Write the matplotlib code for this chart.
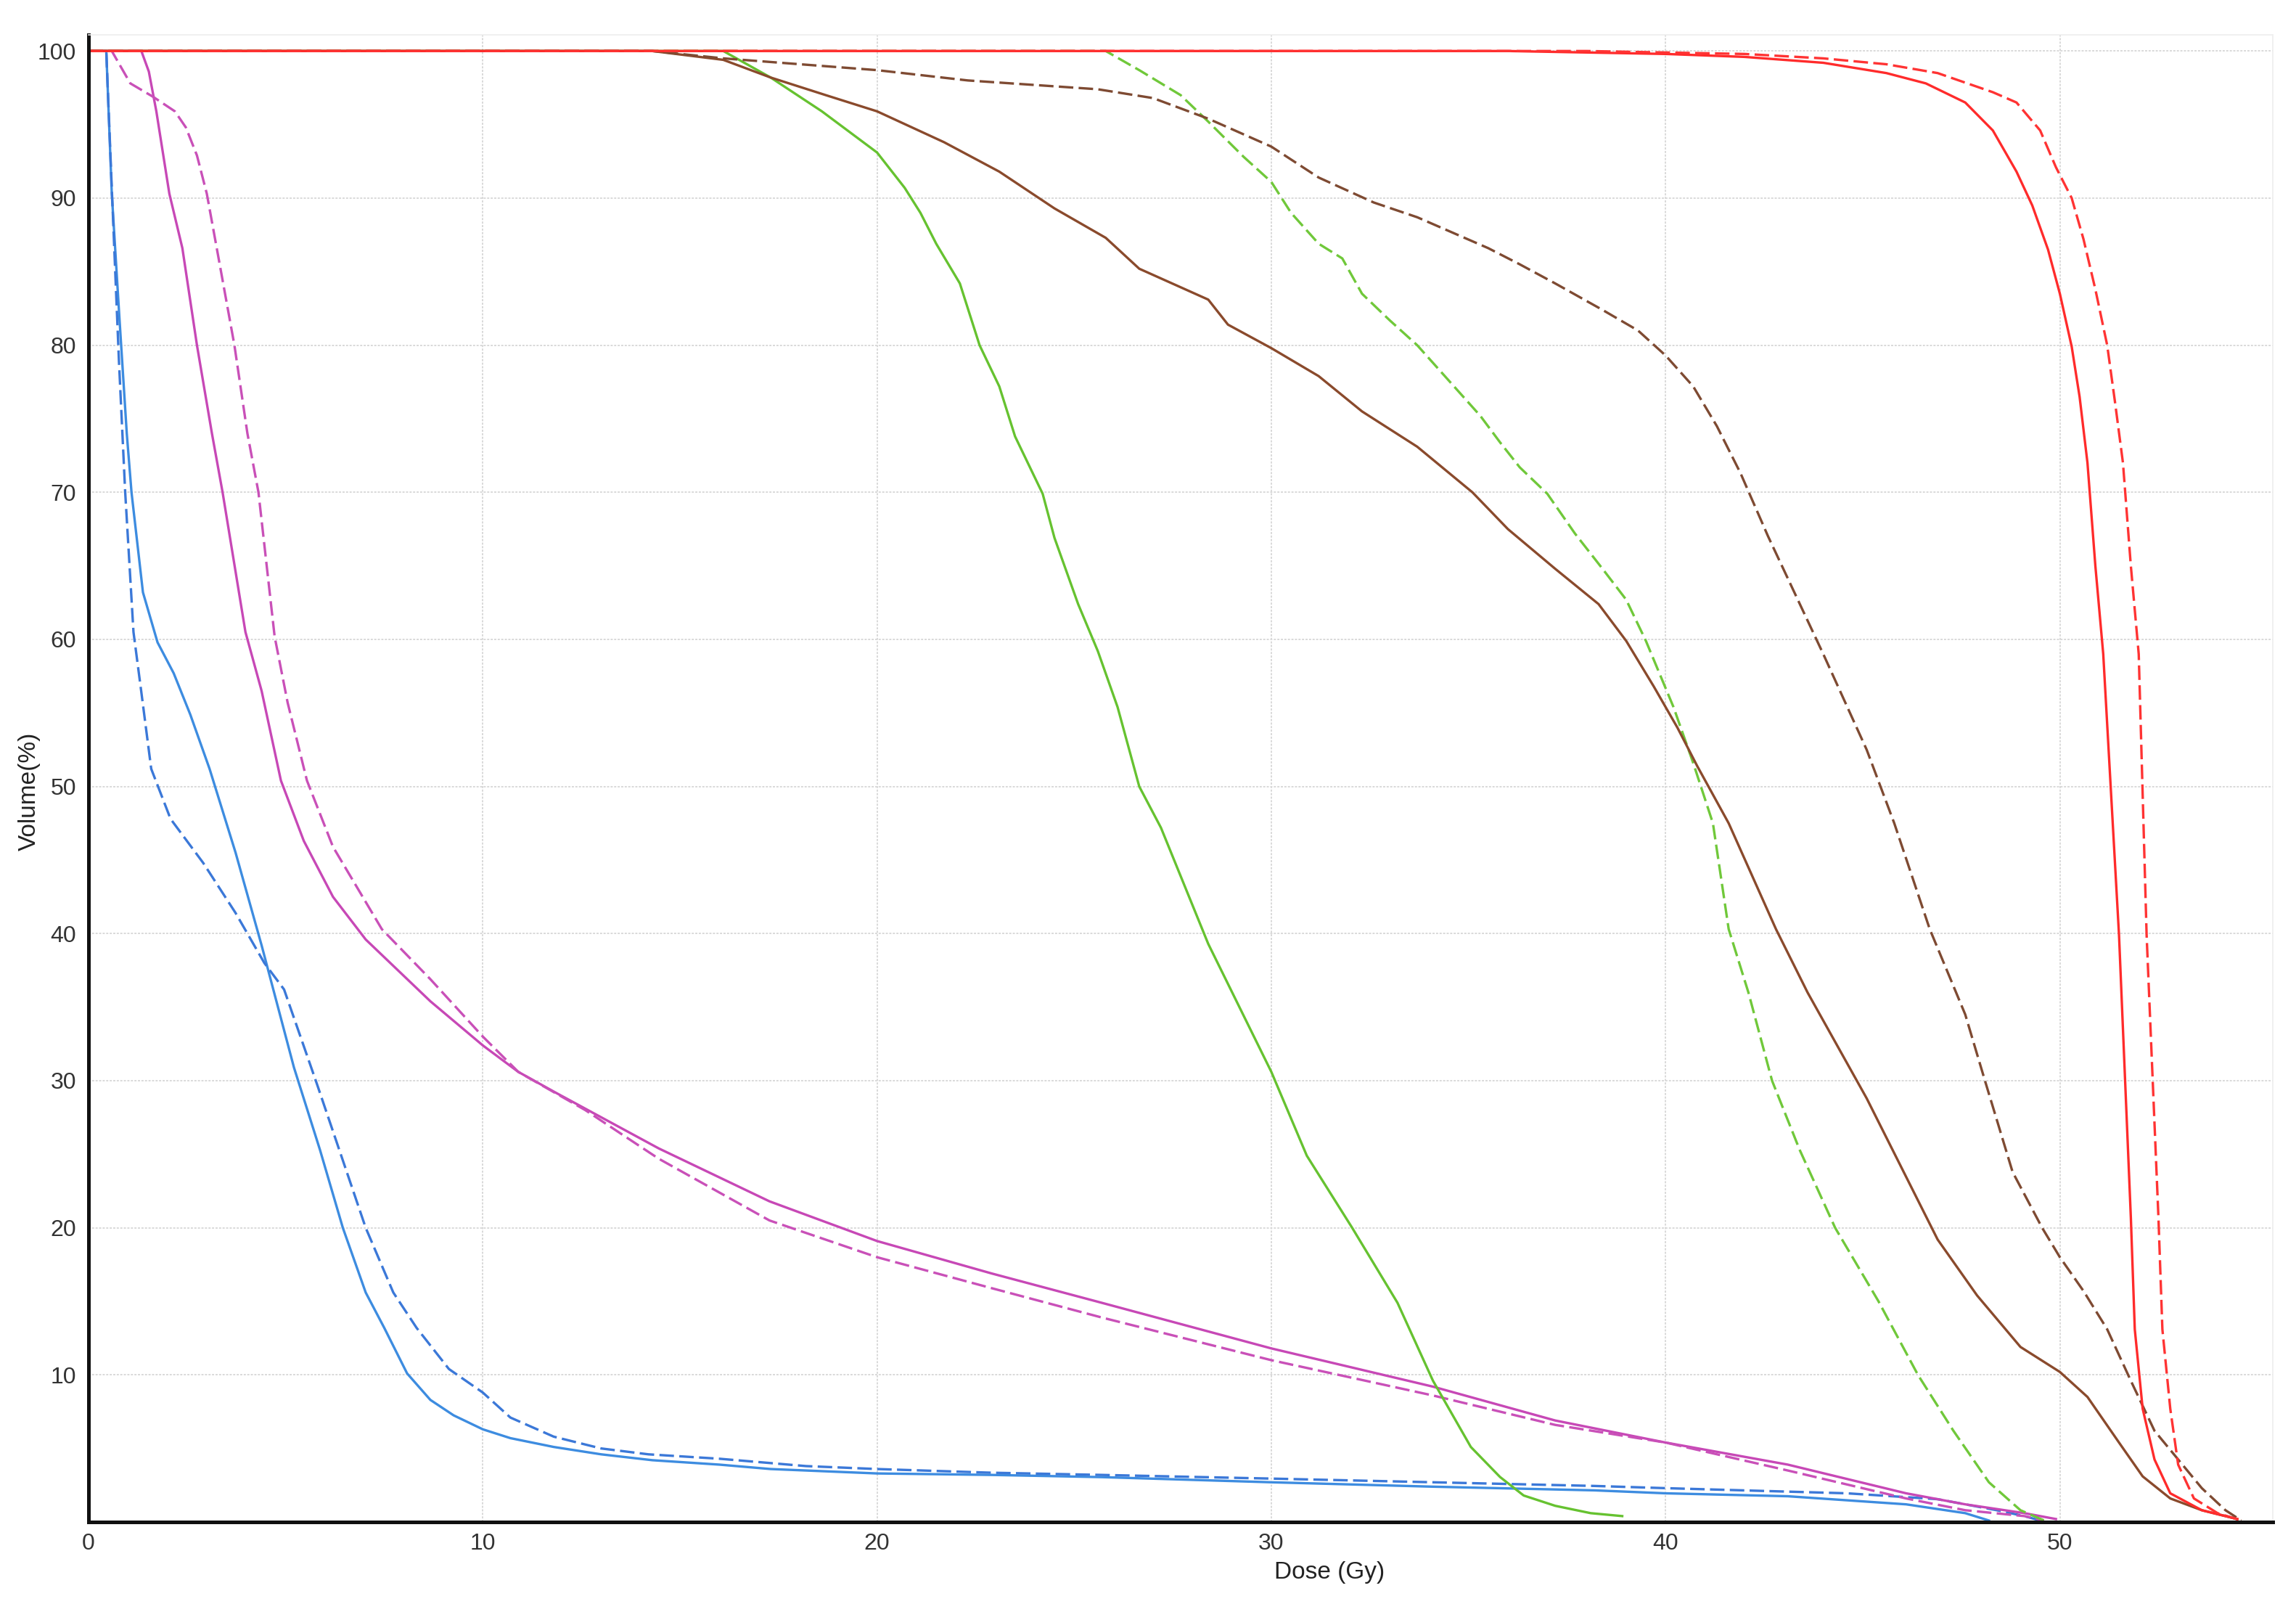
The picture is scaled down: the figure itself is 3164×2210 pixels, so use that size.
'''
    Dose-volume histogram, solid vs dashed plans
'''

from matplotlib import pyplot as plt
import numpy as np

# dose (Gy) / volume (%) pairs
blue_dose = [0, 0.45, 0.59, 0.78, 0.97, 1.09, 1.38, 1.75, 2.16, 2.58, 3.07, 3.73, 4.39, 5.21,
             5.87, 6.45, 7.03, 7.5, 8.08, 8.67, 9.26, 10, 10.7, 11.8, 13, 14.3, 16, 17.3, 20,
             22.9, 25.7, 30, 34.1, 38.2, 40, 43.1, 46.1, 47.6, 48.2]
blue_vol = [100, 100, 90.3, 82, 74, 70, 63.2, 59.8, 57.7, 54.9, 51.2, 45.5, 39.2, 30.9,
            25.3, 20, 15.6, 13.2, 10.1, 8.3, 7.25, 6.3, 5.7, 5.1, 4.6, 4.2, 3.9, 3.6, 3.3,
            3.2, 3.05, 2.7, 2.4, 2.15, 1.95, 1.75, 1.2, 0.6, 0.1]

blue_d_dose = [0, 0.45, 0.6, 0.77, 0.93, 1.14, 1.34, 1.59, 2.08, 2.91, 3.73, 4.46, 4.96, 5.79,
               7.03, 7.73, 8.32, 9.14, 10, 10.7, 11.8, 13, 14.2, 16, 18.2, 20, 22.9, 25.7, 30,
               34.1, 38.2, 40, 44.6, 46.9, 48.4, 49.1, 49.5]
blue_d_vol = [100, 100, 90, 79, 70, 60.5, 56.4, 51.2, 47.8, 44.8, 41.4, 38.0, 36.2, 29.8,
              20, 15.6, 13.2, 10.4, 8.8, 7.1, 5.8, 5.0, 4.6, 4.3, 3.8, 3.6, 3.35, 3.2, 2.95,
              2.7, 2.45, 2.3, 1.95, 1.55, 0.8, 0.4, 0.1]

mag_dose = [0, 1.34, 1.53, 1.72, 2.05, 2.38, 2.75, 3.13, 3.4, 3.98, 4.39, 4.88, 5.46, 6.2, 7.03,
            8.67, 10, 10.9, 11.84, 14.46, 17.27, 20, 22.9, 25.7, 30, 34.1, 37.2, 40, 43.1,
            46.1, 47.6, 49.1, 49.9]
mag_vol = [100, 100, 98.6, 95.9, 90.3, 86.6, 80, 74, 70, 60.5, 56.5, 50.4, 46.3, 42.5, 39.6,
           35.4, 32.4, 30.6, 29.2, 25.4, 21.8, 19.1, 16.9, 14.9, 11.8, 9.2, 6.9, 5.4, 3.9,
           1.95, 1.2, 0.6, 0.2]

mag_d_dose = [0, 0.59, 1.06, 1.63, 2.19, 2.47, 2.75, 3.0, 3.32, 3.7, 4.03, 4.31, 4.72, 5.05,
              5.54, 6.2, 7.44, 8.67, 10, 10.9, 12.6, 14.46, 17.27, 20, 22.9, 25.7, 30, 34.1,
              37.2, 40, 43.1, 46.1, 47.6, 49.1, 49.6]
mag_d_vol = [100, 100, 97.8, 96.9, 95.9, 94.8, 92.9, 90.3, 85.6, 80, 74, 70, 60.2, 55.7,
             50.4, 45.9, 40.3, 36.9, 33, 30.6, 28, 24.7, 20.5, 18, 15.9, 13.9, 11, 8.6,
             6.6, 5.4, 3.5, 1.6, 0.8, 0.4, 0.1]

green_dose = [0, 16.1, 17.3, 18.6, 20, 20.7, 21.1, 21.5, 22.1, 22.6, 23.1, 23.5, 24.2, 24.5,
              25.1, 25.6, 26.1, 26.65, 27.2, 28.4, 30, 30.9, 32.05, 33.2, 34.1, 35.06, 35.8,
              36.4, 37.2, 38.1, 38.9]
green_vol = [100, 100, 98.2, 95.9, 93.1, 90.7, 89, 86.9, 84.2, 80, 77.2, 73.8, 69.9, 66.9,
             62.4, 59.2, 55.4, 50, 47.2, 39.3, 30.6, 24.9, 20, 14.9, 9.6, 5.1, 3.06,
             1.8, 1.1, 0.6, 0.4]

green_d_dose = [0, 25.8, 26.65, 27.7, 28.4, 29.3, 30, 30.5, 31.2, 31.8, 32.3, 33, 33.7, 34.4,
                35.3, 35.8, 36.3, 37, 37.7, 38.4, 39, 39.5, 40.2, 40.7, 41.2, 41.6, 42.1,
                42.7, 43.4, 44.3, 45.4, 46.4, 47.3, 48.2, 49, 49.6]
green_d_vol = [100, 100, 98.7, 97, 95.2, 92.8, 91.1, 89, 86.9, 85.9, 83.5, 81.7, 80, 77.9,
               75.2, 73.4, 71.7, 69.9, 67.2, 64.8, 62.7, 59.9, 55.4, 51.6, 47.5, 40.3, 36,
               30, 25.3, 20, 15, 10, 6.2, 2.7, 0.8, 0.1]

brown_dose = [0, 14.3, 16.1, 17.3, 18.7, 20, 21.7, 23.1, 24.5, 25.8, 26.65, 28.4, 28.9, 30,
              31.2, 32.3, 33.7, 35.1, 36, 37.2, 38.3, 39, 39.7, 40.3, 40.8, 41.6, 42.8, 43.6,
              45.1, 46.9, 47.9, 49, 50, 50.7, 51.5, 52.1, 52.8, 53.6, 54.5]
brown_vol = [100, 100, 99.4, 98.2, 97, 95.9, 93.8, 91.8, 89.3, 87.3, 85.2, 83.1, 81.4, 79.8,
             77.9, 75.5, 73.1, 70, 67.5, 64.8, 62.4, 59.9, 56.8, 54, 51.4, 47.5, 40.3, 36,
             28.8, 19.2, 15.4, 11.9, 10.2, 8.5, 5.4, 3.1, 1.6, 0.8, 0.2]

brown_d_dose = [0, 14.3, 16.1, 20, 22.3, 25.6, 27, 28.4, 30, 31.2, 32.6, 33.7, 35.5, 36.3,
                37.2, 38.4, 39.3, 40, 40.7, 41.3, 41.9, 42.6, 43.3, 44, 45.1, 45.8, 46.7,
                47.6, 48.1, 48.8, 49.55, 50, 50.6, 51.2, 51.8, 52.4, 53, 53.6, 54.2, 54.6]
brown_d_vol = [100, 100, 99.5, 98.7, 98, 97.4, 96.8, 95.4, 93.5, 91.4, 89.7, 88.7, 86.6, 85.5,
               84.2, 82.4, 81, 79.3, 77.2, 74.5, 71.3, 67, 63, 59, 52.5, 47.5, 40.3,
               34.5, 30, 23.8, 20, 18, 15.7, 13.1, 9.6, 6.2, 4.25, 2.3, 0.8, 0.1]

red_dose = [0, 36, 40, 42, 44, 45.6, 46.6, 47.6, 48.3, 48.9, 49.3, 49.7, 50, 50.3, 50.5,
            50.7, 50.9, 51.1, 51.5, 51.8, 51.9, 52.1, 52.4, 52.8, 53.6, 54.5]
red_vol = [100, 100, 99.8, 99.6, 99.2, 98.5, 97.8, 96.5, 94.6, 91.8, 89.5, 86.5, 83.5, 79.9,
           76.5, 72, 65, 59, 39.9, 20.7, 13.1, 7.7, 4.25, 1.95, 0.8, 0.2]

red_d_dose = [0, 38, 42, 44, 45.6, 46.9, 48.3, 48.9, 49.5, 49.9, 50.3, 50.6, 50.9, 51.2,
              51.4, 51.6, 51.8, 52, 52.2, 52.5, 52.6, 52.8, 53, 53.4, 54, 54.6]
red_d_vol = [100, 100, 99.8, 99.5, 99.1, 98.5, 97.2, 96.5, 94.6, 92.1, 90, 87.2, 83.8, 80,
             76.1, 72, 65, 59, 39.9, 20.7, 13.1, 7.7, 3.9, 1.6, 0.6, 0.1]

x_ticks = [0, 10, 20, 30, 40, 50]
y_ticks = [10, 20, 30, 40, 50, 60, 70, 80, 90, 100]

DASH = (0, (6, 2.2))
CURVES = [
    (blue_dose, blue_vol, '#3d8ce0', '-'),
    (blue_d_dose, blue_d_vol, '#3b78d8', DASH),
    (mag_dose, mag_vol, '#c748b6', '-'),
    (mag_d_dose, mag_d_vol, '#c950b8', DASH),
    (green_dose, green_vol, '#66c230', '-'),
    (green_d_dose, green_d_vol, '#70c83a', DASH),
    (brown_dose, brown_vol, '#8a4a2c', '-'),
    (brown_d_dose, brown_d_vol, '#7e4a32', DASH),
    (red_dose, red_vol, '#ff2b2b', '-'),
    (red_d_dose, red_d_vol, '#ff3333', DASH),
]


def main():
    plt.rcParams['font.family'] = ['Liberation Sans', 'DejaVu Sans']
    fig = plt.figure(figsize=(31.64, 22.10), dpi=100)
    ax = fig.add_axes([122/3164, 1 - 2097/2210, (3132-122)/3164, (2097-48)/2210])

    for d, v, c, ls in CURVES:
        ax.plot(np.array(d), np.array(v), color=c, linestyle=ls, linewidth=2.4)

    ax.set_xlim(0, 55.4)
    ax.set_ylim(0, 101.1)
    ax.set_xticks(x_ticks)
    ax.set_yticks(y_ticks)
    ax.tick_params(length=0, labelsize=23, labelcolor='#333333')
    ax.tick_params(axis='y', pad=12)
    ax.tick_params(axis='x', pad=11)
    ax.grid(True, color='#d9d9d9', linestyle=(0, (1.5, 1)), linewidth=1.4)
    ax.set_axisbelow(True)

    for side in ('left', 'bottom'):
        ax.spines[side].set_linewidth(3.6)
        ax.spines[side].set_color('#111111')
    for side in ('top', 'right'):
        ax.spines[side].set_linewidth(1.2)
        ax.spines[side].set_color('#eeeeee')

    fig.text(1832/3164, 1 - 2167/2210, 'Dose (Gy)', fontsize=24, color='#222222',
             ha='center', va='center')
    fig.text(40/3164, 1 - 1090/2210, 'Volume(%)', fontsize=24, color='#222222',
             ha='center', va='center', rotation=90)

    fig.savefig('out.png', dpi=100, facecolor='white')
    plt.close(fig)


if __name__ == '__main__': main()
